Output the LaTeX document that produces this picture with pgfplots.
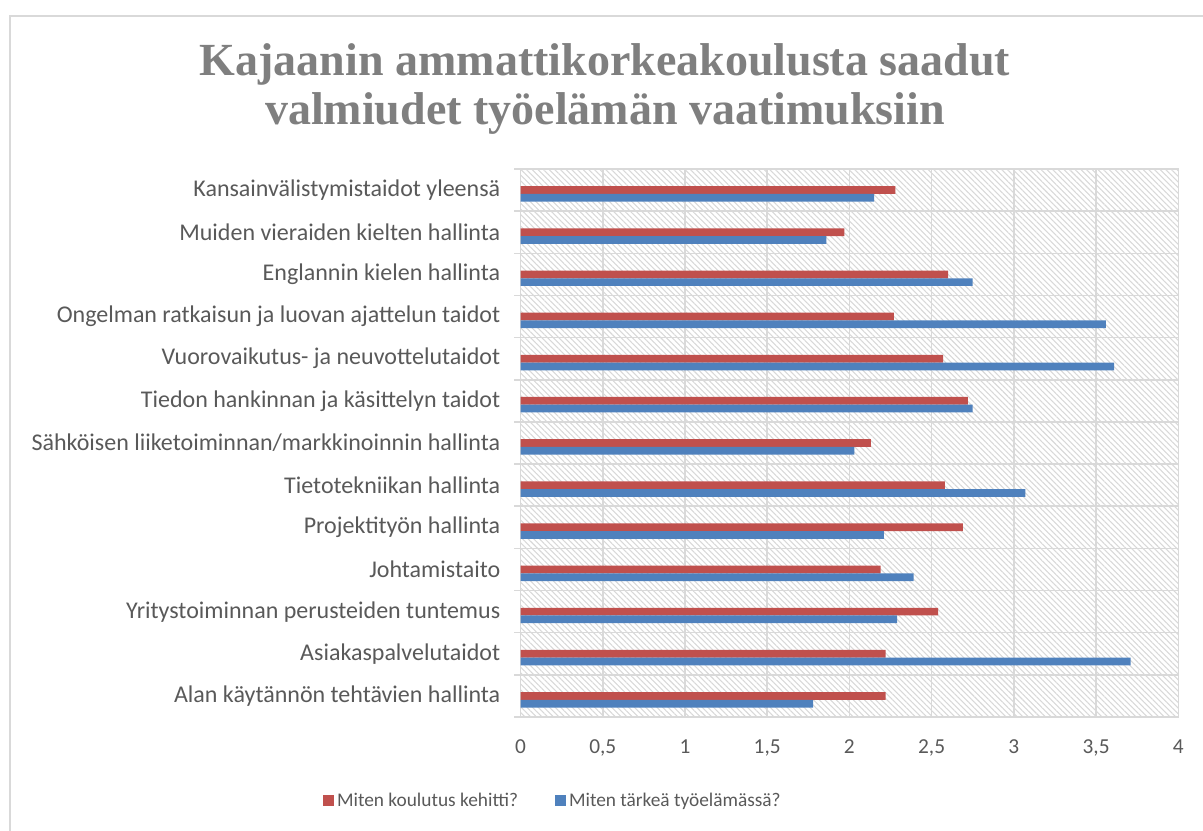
\documentclass[border=0pt]{standalone}
\usepackage{fontspec}
\setmainfont{Carlito}
\newfontfamily\titlefont{Liberation Serif}
\usepackage{pgfplots}
\pgfplotsset{compat=1.18}
\usetikzlibrary{patterns.meta}
\definecolor{cred}{HTML}{C0504D}
\definecolor{cblue}{HTML}{4F81BD}
\definecolor{gridc}{HTML}{D9D9D9}
\definecolor{txt}{HTML}{595959}
\definecolor{ttl}{HTML}{7F7F7F}
\definecolor{hatch}{HTML}{D8D8D8}

\pgfplotstableread{
y  red   blue
0  2.22  1.78
1  2.22  3.71
2  2.54  2.29
3  2.19  2.39
4  2.69  2.21
5  2.58  3.07
6  2.13  2.03
7  2.72  2.75
8  2.57  3.61
9  2.27  3.56
10 2.60  2.75
11 1.97  1.86
12 2.28  2.15
}\datatable

\begin{document}
\begin{tikzpicture}
\useasboundingbox (0,0) rectangle (902.25pt,-623.25pt);
\draw[gridc, line width=1.5pt] (7.5pt,-623.25pt) -- (7.5pt,-12pt) -- (902.25pt,-12pt);
\node[anchor=base, text=ttl, font=\titlefont\bfseries\fontsize{34.5}{40}\selectfont] at (453.75pt,-57pt) {Kajaanin ammattikorkeakoulusta saadut};
\node[anchor=base, text=ttl, font=\titlefont\bfseries\fontsize{34.5}{40}\selectfont] at (453.75pt,-93.5pt) {valmiudet työelämän vaatimuksiin};
\begin{axis}[
  at={(390.375pt,-537.75pt)}, anchor=south west,
  scale only axis, width=493.35pt, height=411pt,
  xbar, bar width=5.8pt,
  xmin=0, xmax=4, ymin=-0.5, ymax=12.5,
  xtick={0,0.5,...,4},
  ytick={0,...,12},
  yticklabels={Alan käytännön tehtävien hallinta,Asiakaspalvelutaidot,Yritystoiminnan perusteiden tuntemus,Johtamistaito,Projektityön hallinta,Tietotekniikan hallinta,Sähköisen liiketoiminnan/markkinoinnin hallinta,Tiedon hankinnan ja käsittelyn taidot,Vuorovaikutus- ja neuvottelutaidot,Ongelman ratkaisun ja luovan ajattelun taidot,Englannin kielen hallinta,Muiden vieraiden kielten hallinta,Kansainvälistymistaidot yleensä},
  minor ytick={-0.5,0.5,...,12.5},
  xmajorgrids, yminorgrids,
  grid style={draw=gridc, line width=1.2pt},
  minor grid style={draw=gridc, line width=1.2pt},
  axis line style={draw=gridc, line width=1.2pt},
  tick align=outside, ytick pos=left, xtick pos=bottom,
  major tick length=0pt, minor tick length=4.5pt,
  minor y tick style={draw=gridc, line width=1.2pt},
  major tick style={draw=none},
  /pgf/number format/assume math mode=true,
  /pgf/number format/use comma,
  xticklabel style={font=\fontsize{16}{19}\selectfont, text=txt, inner sep=0pt, yshift=-17pt},
  yticklabel style={font=\fontsize{18}{21}\selectfont, text=txt, inner sep=0pt, xshift=-15pt},
  axis background/.style={pattern={Lines[angle=-45, distance=3pt, line width=0.8pt]}, pattern color=hatch},
  legend columns=2,
  legend style={at={(0.05,-0.153)}, anchor=center, draw=none, fill=none,
    font=\fontsize{14.5}{17}\selectfont, text=txt,
    /tikz/every even column/.append style={column sep=26pt}},
  legend image code/.code={\fill[#1] (0pt,-4.1pt) rectangle (8.25pt,4.1pt);},
]
\addplot[fill=cred, draw=none, bar shift=0pt] table[x=red, y=y] {\datatable};
\addlegendentry{Miten koulutus kehitti?}
\addplot[fill=cblue, draw=none, bar shift=-5.8pt] table[x=blue, y=y] {\datatable};
\addlegendentry{Miten tärkeä työelämässä?}
\end{axis}
\end{tikzpicture}
\end{document}
